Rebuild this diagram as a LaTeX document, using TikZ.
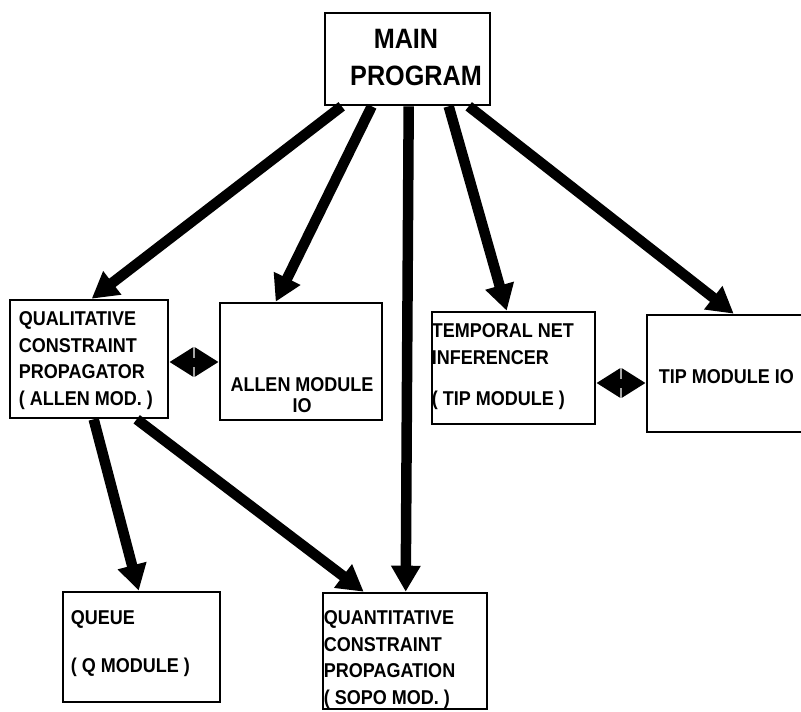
\documentclass[tikz,border=0pt]{standalone}
\usepackage{fontspec}
\setmainfont{Liberation Sans}
\newfontfamily\cond[FakeStretch=0.9]{Liberation Sans}
\usetikzlibrary{arrows.meta,calc}
\begin{document}
\begin{tikzpicture}[x=1pt,y=-1pt,
  box/.style={draw,line width=2.6pt,inner sep=0pt},
  lbl/.style={anchor=north west,align=left,inner sep=0pt,font=\cond\fontsize{20}{26.5}\selectfont\bfseries},
  arr/.style={line width=10.5pt,-{Triangle[length=26pt,width=28pt]}},
  darr/.style={line width=9pt,{Triangle[length=24pt,width=28pt]}-{Triangle[length=24pt,width=28pt]}}]
\useasboundingbox (0,0) rectangle (801,712);
\clip (0,0) rectangle (801,712);
% module boxes
\node[box,minimum width=165pt,minimum height=92pt] (main) at (407.5,59) {};
\node[box,minimum width=158pt,minimum height=118pt] (qcp) at (89,359) {};
\node[box,minimum width=162pt,minimum height=117pt] (allen) at (301,361.5) {};
\node[box,minimum width=163pt,minimum height=112pt] (tnet) at (513.5,368) {};
\node[box,minimum width=165pt,minimum height=117pt] (tip) at (729.5,373.5) {};
\node[box,minimum width=157pt,minimum height=110pt] (queue) at (141.5,647) {};
\node[box,minimum width=164pt,minimum height=116pt] (quant) at (405,651) {};
% labels
\node[font=\cond\fontsize{28}{36}\selectfont\bfseries,inner sep=0pt,anchor=base] (mainlblA) at (406,48) {MAIN};
\node[font=\cond\fontsize{28}{36}\selectfont\bfseries,inner sep=0pt,anchor=base] (mainlblB) at (416,85) {PROGRAM};
\node[lbl] (qcplbl) at ($(qcp.north west)+(10,13)$) {QUALITATIVE\\CONSTRAINT\\PROPAGATOR\\( ALLEN MOD. )};
\node[font=\cond\fontsize{20}{21}\selectfont\bfseries,align=center,inner sep=0pt,anchor=north] (allenlbl) at ($(allen.north)+(1,76)$) {ALLEN MODULE\\IO};
\node[lbl] (tnetlbl) at ($(tnet.north west)+(1,13)$) {TEMPORAL NET\\INFERENCER\\[15pt]( TIP MODULE )};
\node[font=\cond\fontsize{20}{24}\selectfont\bfseries,anchor=west,inner sep=0pt] (tiplbl) at ($(tip.west)+(13,3)$) {TIP MODULE IO};
\node[lbl] (queuelbl) at ($(queue.north west)+(9,20)$) {QUEUE\\[21pt]( Q MODULE )};
\node[lbl] (quantlbl) at ($(quant.north west)+(2,19)$) {QUANTITATIVE\\CONSTRAINT\\PROPAGATION\\( SOPO MOD. )};
% call arrows
\draw[arr] ($(main.south west)+(18,0)$) -- ($(qcp.north west)+(83,0)$);
\draw[arr] ($(main.south west)+(48,0)$) -- ($(allen.north west)+(57,0)$);
\draw[arr] ($(main.south west)+(85,0)$) -- ($(quant.north west)+(84,0)$);
\draw[arr] ($(main.south west)+(125,0)$) -- ($(tnet.north west)+(76,0)$);
\draw[arr] ($(main.south west)+(145,0)$) -- ($(tip.north west)+(88,0)$);
\draw[arr] ($(qcp.south west)+(85,0)$) -- ($(queue.north west)+(77,0)$);
\draw[arr] ($(qcp.south west)+(128,0)$) -- ($(quant.north west)+(42,0)$);
% two-way links
\draw[darr] (qcp.east |- 0,362) -- (allen.west |- 0,362);
\draw[darr] (tnet.east |- 0,383) -- (tip.west |- 0,383);
\end{tikzpicture}
\end{document}
